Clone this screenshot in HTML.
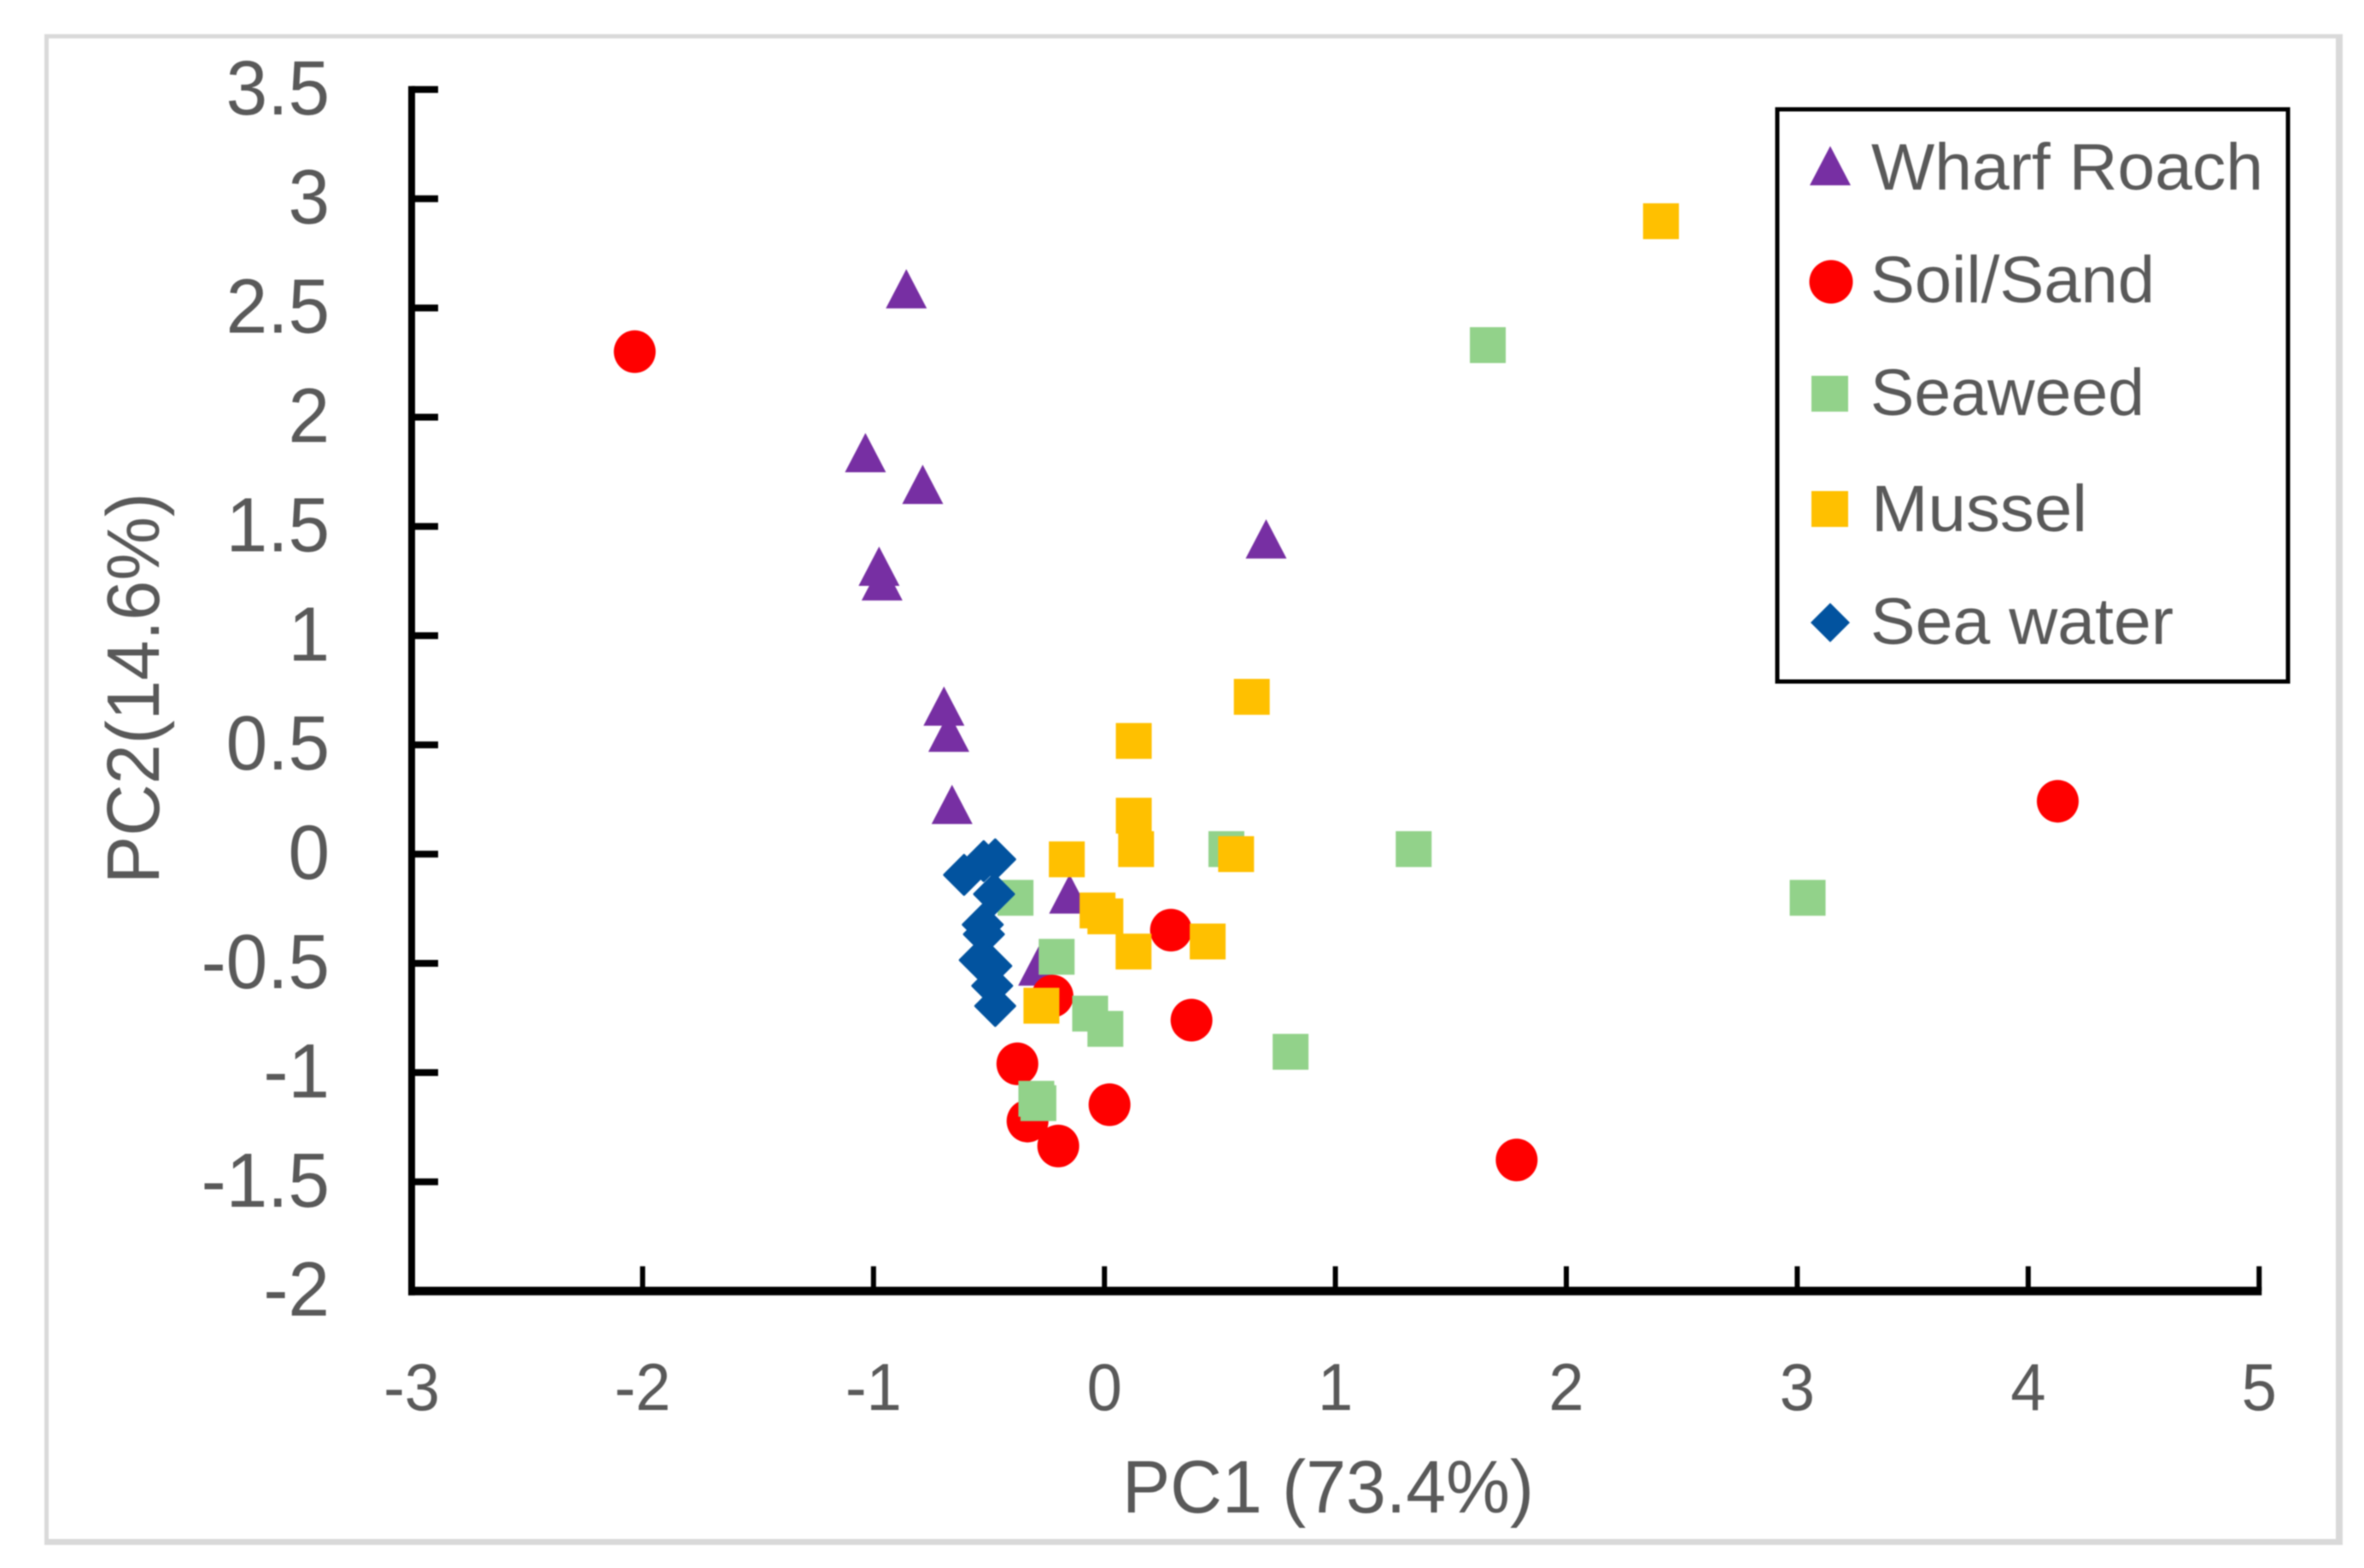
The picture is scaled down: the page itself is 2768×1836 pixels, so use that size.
<!DOCTYPE html>
<html lang="en">
<head>
<meta charset="utf-8">
<title>PCA scatter plot</title>
<style>
html,body{margin:0;padding:0;background:#fff;}
svg{display:block;filter:blur(0.8px);}
text{font-family:"Liberation Sans",sans-serif;fill:#595959;}
</style>
</head>
<body>
<svg id="chart" xmlns="http://www.w3.org/2000/svg" width="2768" height="1836" viewBox="0 0 2768 1836">
  <rect x="0" y="0" width="2768" height="1836" fill="#ffffff"/>
  <g fill="#d9d9d9">
    <rect x="52" y="40" width="5" height="1769"/>
    <rect x="52" y="40" width="2691" height="5"/>
    <rect x="2735" y="40" width="8" height="1769"/>
    <rect x="52" y="1802" width="2691" height="7"/>
  </g>
  <g id="axes"></g>
  <g id="marks"></g>
  <text x="1555" y="1771" font-size="87" text-anchor="middle" textLength="482" lengthAdjust="spacingAndGlyphs">PC1 (73.4%)</text>
  <text transform="translate(186,806) rotate(-90)" font-size="87" text-anchor="middle" textLength="458" lengthAdjust="spacingAndGlyphs">PC2(14.6%)</text>
  <g>
    <rect x="2081" y="128" width="598" height="670" fill="#ffffff" stroke="#000000" stroke-width="5"/>
    <polygon points="2143,171 2167,217 2119,217" fill="#772fa3"/>
    <text x="2191" y="222" font-size="77" textLength="459" lengthAdjust="spacingAndGlyphs">Wharf Roach</text>
    <circle cx="2144" cy="330" r="25.5" fill="#ff0000"/>
    <text x="2190" y="354" font-size="77" textLength="333" lengthAdjust="spacingAndGlyphs">Soil/Sand</text>
    <rect x="2121" y="440" width="43" height="42" fill="#92d28a"/>
    <text x="2190" y="486" font-size="77" textLength="321" lengthAdjust="spacingAndGlyphs">Seaweed</text>
    <rect x="2121" y="575" width="43" height="42" fill="#ffc000"/>
    <text x="2191" y="622" font-size="77" textLength="253" lengthAdjust="spacingAndGlyphs">Mussel</text>
    <polygon points="2143,706 2166,729 2143,752 2120,729" fill="#02539f"/>
    <text x="2190" y="754" font-size="77" textLength="355" lengthAdjust="spacingAndGlyphs">Sea water</text>
  </g>
</svg>
<script>
var xTickValues = [-3, -2, -1, 0, 1, 2, 3, 4, 5];
var xTickLabels = ['-3', '-2', '-1', '0', '1', '2', '3', '4', '5'];
var yTickValues = [3.5, 3, 2.5, 2, 1.5, 1, 0.5, 0, -0.5, -1, -1.5, -2];
var yTickLabels = ['3.5', '3', '2.5', '2', '1.5', '1', '0.5', '0', '-0.5', '-1', '-1.5', '-2'];

var wharfRoachX = [-0.858, -1.035, -0.787, -0.976, -0.963, 0.70, -0.695, -0.674, -0.66, -0.151, -0.285];
var wharfRoachY = [2.58, 1.83, 1.685, 1.31, 1.243, 1.435, 0.67, 0.55, 0.22, -0.19, -0.52];

var soilSandX = [-2.034, 4.128, 1.785, 0.288, 0.377, -0.225, -0.377, 0.022, -0.333, -0.2];
var soilSandY = [2.3, 0.242, -1.4, -0.348, -0.76, -0.65, -0.96, -1.147, -1.222, -1.336];

var seaweedX = [1.66, 3.045, 0.528, 1.339, -0.385, -0.207, -0.062, 0.004, 0.806, -0.295, -0.286];
var seaweedY = [2.33, -0.2, 0.023, 0.023, -0.2, -0.47, -0.73, -0.80, -0.905, -1.12, -1.14];

var musselX = [2.41, 0.638, 0.127, 0.127, 0.137, 0.57, -0.163, -0.03, 0.004, 0.126, 0.447, -0.273];
var musselY = [2.897, 0.72, 0.518, 0.176, 0.023, 0.0, -0.024, -0.258, -0.285, -0.446, -0.4, -0.694];

var seaWaterX = [-0.608, -0.523, -0.473, -0.478, -0.527, -0.522, -0.54, -0.49, -0.486, -0.473];
var seaWaterY = [-0.095, -0.032, -0.024, -0.183, -0.323, -0.367, -0.485, -0.512, -0.603, -0.695];

var NS = 'http://www.w3.org/2000/svg';

function scaleX(v) { return 482 + (v + 3) * 270.4; }
function scaleY(v) { return 1511.7 - (v + 2) * 255.8; }

function make(tag, attrs, parent) {
  var el = document.createElementNS(NS, tag);
  for (var k in attrs) { el.setAttribute(k, attrs[k]); }
  parent.appendChild(el);
  return el;
}

var axes = document.getElementById('axes');
var marks = document.getElementById('marks');

var yAxisLine = make('rect', { x: 478, y: scaleY(3.5) - 4, width: 8, height: scaleY(-2) - scaleY(3.5) + 9, fill: '#000' }, axes);



var xAxisLine = make('rect', { x: 478, y: scaleY(-2) - 5, width: scaleX(5) - 478 + 3, height: 10, fill: '#000' }, axes);



yTickValues.forEach(function (v, i) {
  var tick = make('rect', { x: 482, y: scaleY(v) - 4, width: 31, height: 8, fill: '#000' }, axes);
  
  
  var label = make('text', { transform: 'translate(386,' + (scaleY(v) + 29) + ') scale(0.97,1)', 'font-size': 90, 'text-anchor': 'end' }, axes);
  
  
  label.textContent = yTickLabels[i];
});

xTickValues.forEach(function (v, i) {
  var tick = make('rect', { x: scaleX(v) - 3, y: scaleY(-2) - 29, width: 6, height: 29, fill: '#000' }, axes);
  
  
  var label = make('text', { transform: 'translate(' + scaleX(v) + ',1651) scale(0.95,1)', 'font-size': 78, 'text-anchor': 'middle' }, axes);
  
  
  label.textContent = xTickLabels[i];
});

function triangleMark(cx, cy) {
  return make('polygon', {
    points: cx + ',' + (cy - 25) + ' ' + (cx + 24) + ',' + (cy + 21) + ' ' + (cx - 24) + ',' + (cy + 21),
    fill: '#772fa3'
  }, marks);
}
function circleMark(cx, cy) {
  return make('ellipse', { cx: cx, cy: cy, rx: 24.5, ry: 25, fill: '#ff0000' }, marks);
}
function seaweedMark(cx, cy) {
  return make('rect', { x: cx - 21, y: cy - 21, width: 42, height: 42, fill: '#92d28a' }, marks);
}
function musselMark(cx, cy) {
  return make('rect', { x: cx - 21, y: cy - 21, width: 42, height: 42, fill: '#ffc000' }, marks);
}
function diamondMark(cx, cy) {
  return make('polygon', {
    points: cx + ',' + (cy - 23) + ' ' + (cx + 23) + ',' + cy + ' ' + cx + ',' + (cy + 23) + ' ' + (cx - 23) + ',' + cy,
    fill: '#02539f',
    stroke: '#02539f',
    'stroke-width': 3,
    'stroke-linejoin': 'round'
  }, marks);
}

wharfRoachX.forEach(function (v, i) {
  var m = triangleMark(scaleX(v), scaleY(wharfRoachY[i]));
  
  
});
soilSandX.forEach(function (v, i) {
  var m = circleMark(scaleX(v), scaleY(soilSandY[i]));
  
  
});
seaweedX.forEach(function (v, i) {
  var m = seaweedMark(scaleX(v), scaleY(seaweedY[i]));
  
  
});
musselX.forEach(function (v, i) {
  var m = musselMark(scaleX(v), scaleY(musselY[i]));
  
  
});
seaWaterX.forEach(function (v, i) {
  var m = diamondMark(scaleX(v), scaleY(seaWaterY[i]));
  
  
});
</script>
</body>
</html>
